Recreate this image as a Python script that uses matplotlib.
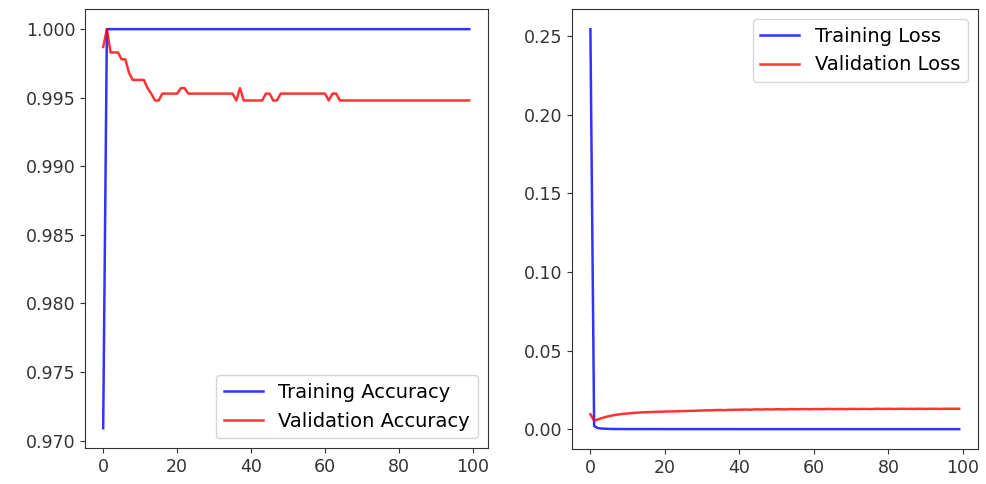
import numpy as np
import matplotlib
matplotlib.use("Agg")
import matplotlib.pyplot as plt

epochs = list(range(100))

# training accuracy: 0.9709 at the first epoch, then 1.0
train_acc = [0.9709] + [1.0] * 99

val_acc = ([0.9987, 1.0000, 0.9983, 0.9983, 0.9983, 0.9978, 0.9978, 0.9968, 0.9963, 0.9963,
            0.9963, 0.9963, 0.9957, 0.9953, 0.9948, 0.9948]
           + [0.9953] * 5          # 16-20
           + [0.9957] * 2          # 21-22
           + [0.9953] * 13         # 23-35
           + [0.9948, 0.9957]      # 36-37
           + [0.9948] * 6          # 38-43
           + [0.9953] * 2          # 44-45
           + [0.9948] * 2          # 46-47
           + [0.9953] * 13         # 48-60
           + [0.9948, 0.9953, 0.9953]  # 61-63
           + [0.9948] * 36)        # 64-99

train_loss = ([0.2545, 0.0020, 0.0007, 0.0004, 0.0003, 0.0002, 0.00015, 0.00012, 0.0001, 0.00009]
              + [0.00008] * 10 + [0.00006] * 20 + [0.00004] * 30 + [0.00003] * 30)

val_loss = [0.0095, 0.0055, 0.0062, 0.0070, 0.0077, 0.0083, 0.0088, 0.0092, 0.0095, 0.0098,
            0.0100, 0.0102, 0.0104, 0.0106, 0.0107, 0.0108, 0.0109, 0.0110, 0.0111, 0.0111,
            0.0112, 0.0113, 0.0113, 0.0114, 0.0115, 0.0115, 0.0116, 0.0117, 0.0117, 0.0118,
            0.0119, 0.0120, 0.0120, 0.0121, 0.0122, 0.0122, 0.0121, 0.0123, 0.0123, 0.0124,
            0.0124, 0.0125, 0.0125, 0.0124, 0.0126, 0.0126, 0.0125, 0.0127, 0.0126, 0.0126,
            0.0127, 0.0127, 0.0126, 0.0127, 0.0128, 0.0127, 0.0127, 0.0128, 0.0128, 0.0127,
            0.0128, 0.0128, 0.0127, 0.0128, 0.0129, 0.0128, 0.0128, 0.0129, 0.0128, 0.0128,
            0.0129, 0.0129, 0.0128, 0.0129, 0.0129, 0.0128, 0.0129, 0.0130, 0.0129, 0.0129,
            0.0130, 0.0129, 0.0129, 0.0130, 0.0130, 0.0129, 0.0130, 0.0129, 0.0130, 0.0130,
            0.0129, 0.0130, 0.0130, 0.0130, 0.0129, 0.0130, 0.0130, 0.0130, 0.0130, 0.0130]

plt.rcParams['font.size'] = 12.5

fig = plt.figure(figsize=(9.87, 4.84), dpi=100)
ax1 = fig.add_axes([0.086, 0.074, 0.408, 0.907])
ax2 = fig.add_axes([0.5795, 0.072, 0.411, 0.909])

ax1.plot(epochs, train_acc, color='b', lw=1.8, alpha=0.8, label='Training Accuracy')
ax1.plot(epochs, val_acc, color='r', lw=1.8, alpha=0.8, label='Validation Accuracy')
ax1.set_xticks([0, 20, 40, 60, 80, 100])
ax1.legend(loc='lower right', fontsize=14)

ax2.plot(epochs, train_loss, color='b', lw=1.8, alpha=0.8, label='Training Loss')
ax2.plot(epochs, val_loss, color='r', lw=1.8, alpha=0.8, label='Validation Loss')
ax2.set_xticks([0, 20, 40, 60, 80, 100])
ax2.legend(loc='upper right', fontsize=14)

for ax in (ax1, ax2):
    ax.tick_params(colors='#333333', labelcolor='#333333')
    for s in ax.spines.values():
        s.set_color('#333333')

fig.savefig("out.png")
